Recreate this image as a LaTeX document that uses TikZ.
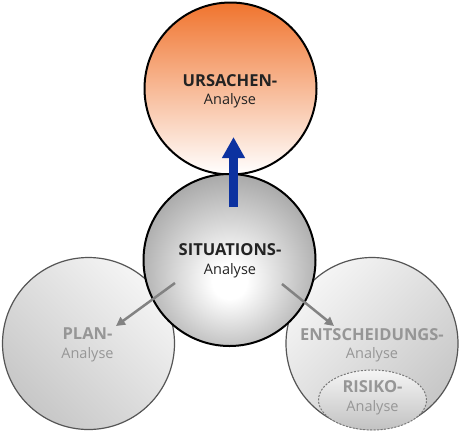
\documentclass[tikz,border=0pt]{standalone}
\usepackage{fontspec}
\setmainfont{Open Sans}
\usetikzlibrary{arrows.meta,shapes.geometric}
\definecolor{orangetop}{RGB}{240,116,46}
\definecolor{arrowblue}{RGB}{12,50,160}
\definecolor{sidetext}{RGB}{150,150,150}
\definecolor{maintext}{RGB}{35,35,35}
\definecolor{ballout}{RGB}{150,150,150}
\definecolor{sideline}{RGB}{85,85,85}
\pgfdeclareradialshading{midball}{\pgfpoint{0bp}{-7bp}}{color(0bp)=(white); color(5bp)=(white); color(33bp)=(ballout); color(50bp)=(ballout)}
\newcommand{\boldline}[1]{{\fontsize{16.5}{18.5}\selectfont\bfseries #1}}
\newcommand{\regline}[1]{{\fontsize{14.5}{18.5}\selectfont #1}}
\tikzset{
  maincircle/.style={circle, draw=black, line width=2pt, minimum size=172pt, inner sep=0pt},
  sidecircle/.style={circle, draw=sideline, line width=1.2pt, minimum size=172pt, inner sep=0pt},
  maintextnode/.style={align=center, text=maintext, inner sep=0pt, font=\fontsize{15}{18.5}\selectfont},
  sidetextnode/.style={align=center, text=sidetext, inner sep=0pt, font=\fontsize{15}{18.5}\selectfont},
  grayarrow/.style={draw={rgb,255:red,130;green,130;blue,130}, line width=2.5pt, -{Triangle[width=9pt,length=9pt]}},
  bluearrow/.style={draw=arrowblue, line width=8.3pt, -{Triangle[width=21.6pt,length=21pt]}},
}
\begin{document}
\begin{tikzpicture}[x=1pt,y=-1pt]
\useasboundingbox (0,0) rectangle (460,432);
\fill[white] (0,0) rectangle (460,432);
% side circles
\node[sidecircle, top color=white!96!black, bottom color=white!78!black, shading angle=-45] (plan) at (88.5,343.5) {};
\node[sidetextnode] (plantext) at (87.5,345) {\boldline{PLAN-}\\\regline{Analyse}};
\node[sidecircle, top color=white!96!black, bottom color=white!78!black, shading angle=45] (ents) at (372,343.5) {};
\node[sidetextnode] (entstext) at (372,345.5) {\boldline{ENTSCHEIDUNGS-}\\\regline{Analyse}};
\node[ellipse, draw={rgb,255:red,120;green,120;blue,120}, line width=1pt, dash pattern=on 2pt off 1.5pt, minimum width=108pt, minimum height=60pt, inner sep=0pt, top color=white!96!black, bottom color=white!76!black] (risiko) at (372.5,400) {};
\node[sidetextnode] (risikotext) at (372.5,397.5) {\boldline{RISIKO-}\\\regline{Analyse}};
% top circle
\node[maincircle, top color=orangetop, bottom color=white] (ursachen) at (230.5,88.5) {};
\node[maintextnode] (ursachentext) at (230,91.5) {\boldline{URSACHEN-}\\\regline{Analyse}};
% middle circle
\node[maincircle, shading=midball] (situation) at (229.5,260) {};
\node[maintextnode] (situationtext) at (230,261) {\boldline{SITUATIONS-}\\\regline{Analyse}};
% arrows
\coordinate (bstart) at (233.5,207);
\coordinate (bend) at (233.5,137);
\draw[bluearrow] (bstart) -- (bend);
\coordinate (lstart) at (175,283);
\coordinate (lend) at (116,326);
\coordinate (rstart) at (282,284);
\coordinate (rend) at (334,326);
\draw[grayarrow] (lstart) -- (lend);
\draw[grayarrow] (rstart) -- (rend);
\end{tikzpicture}
\end{document}
